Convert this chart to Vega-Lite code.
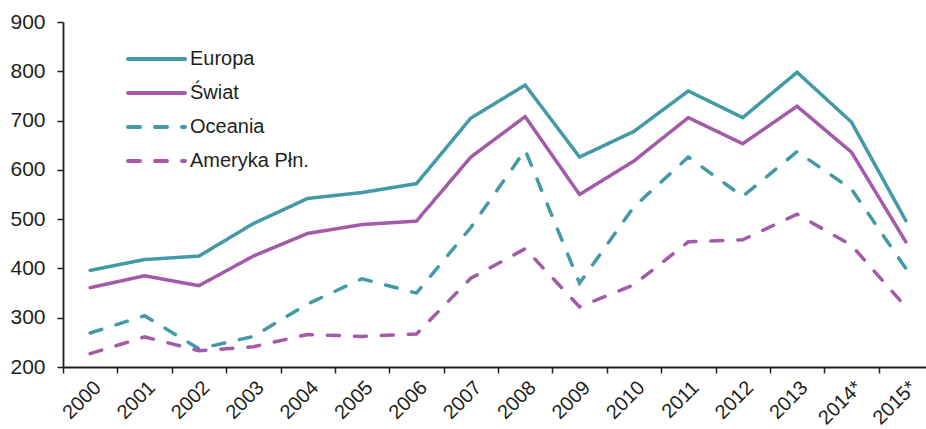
{
  "$schema": "https://vega.github.io/schema/vega-lite/v6.json",
  "width": 863,
  "height": 345,
  "autosize": {"type": "none"},
  "padding": {"left": 63, "top": 22, "right": 0, "bottom": 62},
  "background": "white",
  "config": {
    "view": {"stroke": null},
    "font": "Liberation Sans",
    "axis": {"labelFont": "Liberation Sans", "labelColor": "#231f20", "domainColor": "#231f20", "tickColor": "#231f20"}
  },
  "data": {
    "values": [
      {"year": "2000", "series": "Europa", "value": 396},
      {"year": "2001", "series": "Europa", "value": 418},
      {"year": "2002", "series": "Europa", "value": 425},
      {"year": "2003", "series": "Europa", "value": 491},
      {"year": "2004", "series": "Europa", "value": 542},
      {"year": "2005", "series": "Europa", "value": 554},
      {"year": "2006", "series": "Europa", "value": 572},
      {"year": "2007", "series": "Europa", "value": 705},
      {"year": "2008", "series": "Europa", "value": 772},
      {"year": "2009", "series": "Europa", "value": 626},
      {"year": "2010", "series": "Europa", "value": 678},
      {"year": "2011", "series": "Europa", "value": 760},
      {"year": "2012", "series": "Europa", "value": 706},
      {"year": "2013", "series": "Europa", "value": 798},
      {"year": "2014*", "series": "Europa", "value": 697},
      {"year": "2015*", "series": "Europa", "value": 497},
      {"year": "2000", "series": "Świat", "value": 361},
      {"year": "2001", "series": "Świat", "value": 385},
      {"year": "2002", "series": "Świat", "value": 365},
      {"year": "2003", "series": "Świat", "value": 425},
      {"year": "2004", "series": "Świat", "value": 471},
      {"year": "2005", "series": "Świat", "value": 489},
      {"year": "2006", "series": "Świat", "value": 496},
      {"year": "2007", "series": "Świat", "value": 626},
      {"year": "2008", "series": "Świat", "value": 708},
      {"year": "2009", "series": "Świat", "value": 550},
      {"year": "2010", "series": "Świat", "value": 618},
      {"year": "2011", "series": "Świat", "value": 706},
      {"year": "2012", "series": "Świat", "value": 653},
      {"year": "2013", "series": "Świat", "value": 729},
      {"year": "2014*", "series": "Świat", "value": 636},
      {"year": "2015*", "series": "Świat", "value": 454},
      {"year": "2000", "series": "Oceania", "value": 269},
      {"year": "2001", "series": "Oceania", "value": 304},
      {"year": "2002", "series": "Oceania", "value": 237},
      {"year": "2003", "series": "Oceania", "value": 262},
      {"year": "2004", "series": "Oceania", "value": 328},
      {"year": "2005", "series": "Oceania", "value": 379},
      {"year": "2006", "series": "Oceania", "value": 350},
      {"year": "2007", "series": "Oceania", "value": 483},
      {"year": "2008", "series": "Oceania", "value": 640},
      {"year": "2009", "series": "Oceania", "value": 370},
      {"year": "2010", "series": "Oceania", "value": 525},
      {"year": "2011", "series": "Oceania", "value": 626},
      {"year": "2012", "series": "Oceania", "value": 546},
      {"year": "2013", "series": "Oceania", "value": 637},
      {"year": "2014*", "series": "Oceania", "value": 561},
      {"year": "2015*", "series": "Oceania", "value": 400},
      {"year": "2000", "series": "Ameryka Płn.", "value": 227},
      {"year": "2001", "series": "Ameryka Płn.", "value": 261},
      {"year": "2002", "series": "Ameryka Płn.", "value": 233},
      {"year": "2003", "series": "Ameryka Płn.", "value": 241},
      {"year": "2004", "series": "Ameryka Płn.", "value": 266},
      {"year": "2005", "series": "Ameryka Płn.", "value": 262},
      {"year": "2006", "series": "Ameryka Płn.", "value": 267},
      {"year": "2007", "series": "Ameryka Płn.", "value": 380},
      {"year": "2008", "series": "Ameryka Płn.", "value": 440},
      {"year": "2009", "series": "Ameryka Płn.", "value": 322},
      {"year": "2010", "series": "Ameryka Płn.", "value": 367},
      {"year": "2011", "series": "Ameryka Płn.", "value": 454},
      {"year": "2012", "series": "Ameryka Płn.", "value": 458},
      {"year": "2013", "series": "Ameryka Płn.", "value": 510},
      {"year": "2014*", "series": "Ameryka Płn.", "value": 447},
      {"year": "2015*", "series": "Ameryka Płn.", "value": 322}
    ]
  },
  "mark": {"type": "line", "strokeWidth": 3.5, "strokeCap": "round", "strokeJoin": "miter"},
  "encoding": {
    "x": {
      "field": "year",
      "type": "ordinal",
      "sort": null,
      "scale": {"type": "band", "range": [0, 870], "paddingInner": 0, "paddingOuter": 0},
      "axis": {
        "title": null,
        "labelAngle": -45,
        "labelFontSize": 20,
        "labelPadding": 4,
        "tickBand": "extent",
        "tickSize": 6,
        "tickWidth": 1.5,
        "domainWidth": 1.8
      }
    },
    "y": {
      "field": "value",
      "type": "quantitative",
      "scale": {"domain": [200, 900], "nice": false, "zero": false},
      "axis": {
        "title": null,
        "values": [200, 300, 400, 500, 600, 700, 800, 900],
        "grid": false,
        "labelFontSize": 21,
        "labelPadding": 12,
        "tickSize": 6,
        "tickWidth": 1.5,
        "domainWidth": 1.8
      }
    },
    "color": {
      "field": "series",
      "type": "nominal",
      "sort": null,
      "scale": {
        "domain": ["Europa", "Świat", "Oceania", "Ameryka Płn."],
        "range": ["#4499a7", "#a35ba9", "#4499a7", "#a35ba9"]
      },
      "legend": {
        "title": null,
        "orient": "none",
        "legendX": 63,
        "legendY": 26,
        "symbolType": "stroke",
        "symbolSize": 3249,
        "symbolStrokeWidth": 4,
        "labelFontSize": 20,
        "labelColor": "#231f20",
        "labelOffset": 3,
        "clipHeight": 22,
        "rowPadding": 12,
        "encode": {"symbols": {"update": {"strokeCap": {"value": "round"}}}}
      }
    },
    "strokeDash": {
      "field": "series",
      "type": "nominal",
      "sort": null,
      "scale": {
        "domain": ["Europa", "Świat", "Oceania", "Ameryka Płn."],
        "range": [[1, 0], [1, 0], [12, 15], [12, 15]]
      },
      "legend": {
        "title": null,
        "orient": "none",
        "legendX": 63,
        "legendY": 26,
        "symbolType": "stroke",
        "symbolSize": 3249,
        "symbolStrokeWidth": 4,
        "labelFontSize": 20,
        "labelColor": "#231f20",
        "labelOffset": 3,
        "clipHeight": 22,
        "rowPadding": 12,
        "encode": {"symbols": {"update": {"strokeCap": {"value": "round"}}}}
      }
    }
  }
}
